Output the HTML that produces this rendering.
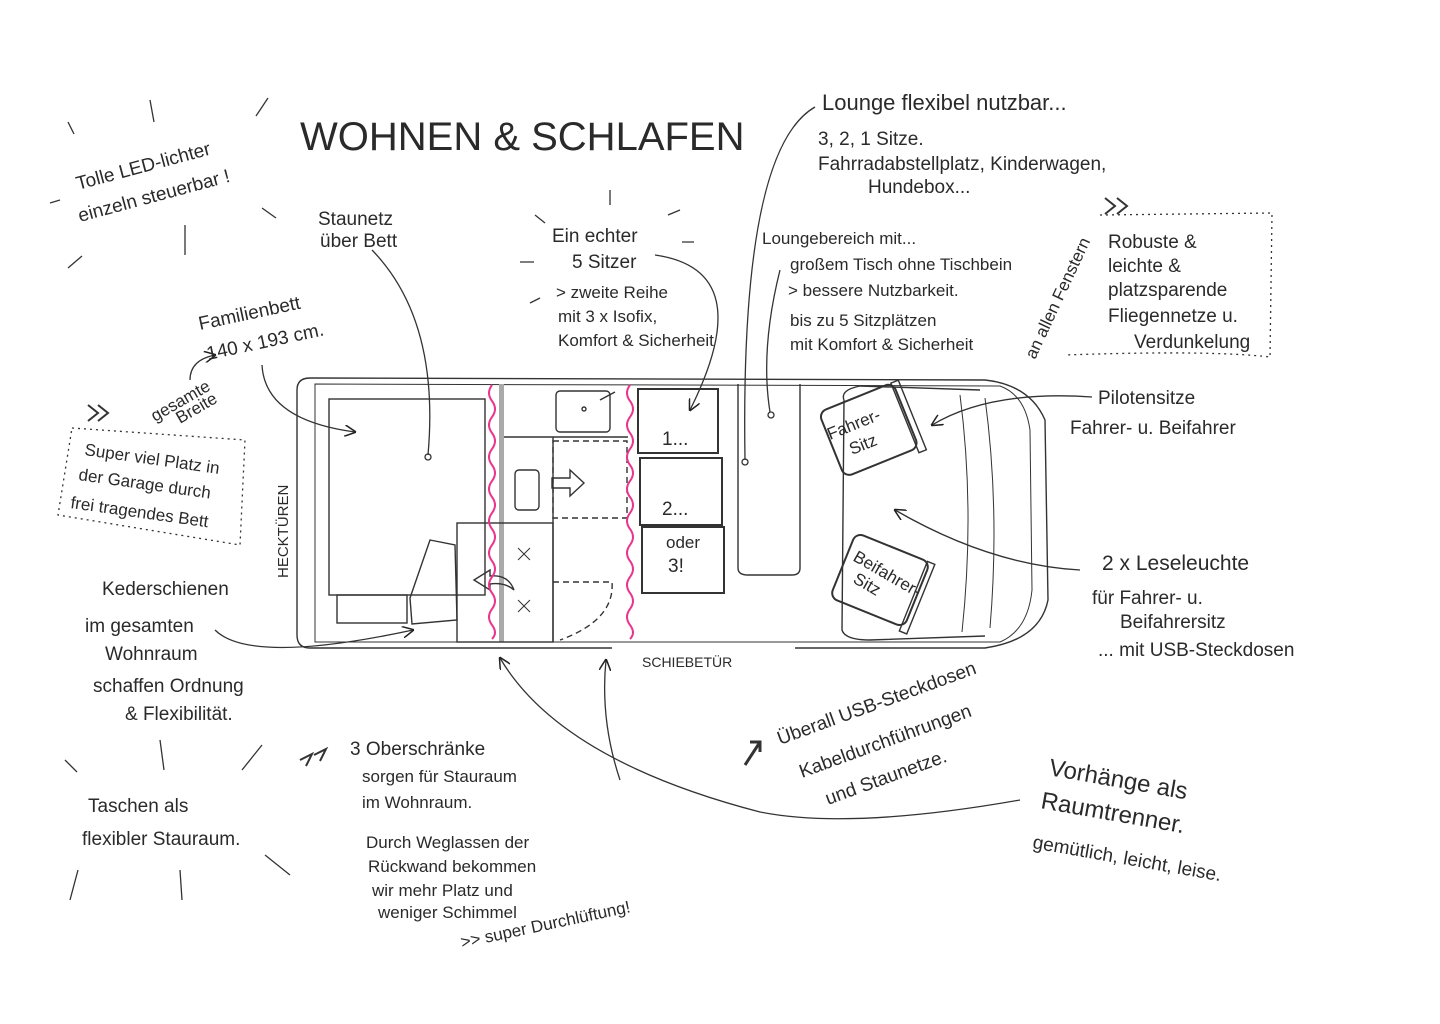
<!DOCTYPE html>
<html><head><meta charset="utf-8"><style>
html,body{margin:0;padding:0;background:#fff;}
svg{display:block}
text{font-family:"Liberation Sans Narrow","Liberation Sans",sans-serif;fill:#2a2a2a;font-size:19px;}
.s{font-size:17px}
</style></head><body>
<svg width="1440" height="1024" viewBox="0 0 1440 1024" xmlns="http://www.w3.org/2000/svg">
<defs><marker id="a" viewBox="0 0 10 10" refX="9" refY="5" markerWidth="9" markerHeight="9" orient="auto"><path d="M0,0 L10,5 L0,10" fill="none" stroke="#222" stroke-width="1.3"/></marker></defs>
<g fill="none" stroke="#333" stroke-width="1.4">
<!-- van -->
<path d="M612,648 L310,648 Q297,648 297,635 L297,390 Q297,378 310,378 L985,380 Q1030,385 1045,420 L1048,600 Q1040,640 985,648 L795,648"/>
<path d="M315,384 L1000,386 Q1025,395 1030,430 L1032,590 Q1028,630 1000,642 L315,642 Z" stroke-width="1"/>
<rect x="329" y="399" width="156" height="196"/>
<rect x="337" y="595" width="70" height="28"/>
<path d="M430,540 L455,545 L457,620 L412,624 L410,598 Z"/>
<rect x="499" y="384" width="5" height="258" fill="#aaa" stroke="none"/>
<rect x="556" y="391" width="54" height="41" rx="4"/>
<circle cx="584" cy="409" r="2"/>
<line x1="600" y1="400" x2="615" y2="392"/>
<line x1="504" y1="437" x2="628" y2="437"/>
<rect x="553" y="441" width="74" height="77" stroke-dasharray="6,4"/>
<rect x="457" y="523" width="96" height="119"/>
<line x1="553" y1="437" x2="553" y2="642"/>
<path d="M553,582 L612,582 Q615,620 560,640" stroke-dasharray="6,4"/>
<rect x="515" y="470" width="24" height="40" rx="4"/>
<path d="M552,478 L570,478 L570,470 L584,483 L570,496 L570,488 L552,488 Z"/>
<path d="M474,580 L490,570 L490,576 Q508,574 514,590 Q505,582 490,584 L490,590 Z"/>
<path d="M518,548 L530,560 M530,548 L518,560 M518,600 L530,612 M530,600 L518,612" stroke-width="1"/>
<rect x="638" y="389" width="80" height="64" stroke-width="2"/>
<rect x="640" y="458" width="82" height="67" stroke-width="2"/>
<rect x="642" y="527" width="82" height="66" stroke-width="2"/>
<path d="M738,384 L738,568 Q738,575 748,575 L792,575 Q800,575 800,568 L800,384"/>
<path d="M844,400 Q840,390 860,386 L980,390 M844,400 L842,630 Q845,640 870,640 L985,636"/>
<path d="M960,395 Q975,510 962,632 M985,398 Q1000,510 990,628" stroke-width="1"/>
<g transform="rotate(-22 868 428)"><rect x="828" y="395" width="80" height="70" rx="8" stroke-width="2"/><rect x="906" y="395" width="8" height="75"/></g>
<g transform="rotate(22 880 580)"><rect x="840" y="545" width="80" height="70" rx="8" stroke-width="2"/><rect x="917" y="545" width="8" height="75"/></g>
</g>
<g fill="none" stroke="#e8358f" stroke-width="2">
<path d="M492,385 q-6,8 0,16 q6,8 0,16 q-6,8 0,16 q6,8 0,16 q-6,8 0,16 q6,8 0,16 q-6,8 0,16 q6,8 0,16 q-6,8 0,16 q6,8 0,16 q-6,8 0,16 q6,8 0,16 q-6,8 0,16 q6,8 0,16 q-6,8 0,16 q6,8 0,14"/>
<path d="M630,385 q-6,8 0,16 q6,8 0,16 q-6,8 0,16 q6,8 0,16 q-6,8 0,16 q6,8 0,16 q-6,8 0,16 q6,8 0,16 q-6,8 0,16 q6,8 0,16 q-6,8 0,16 q6,8 0,16 q-6,8 0,16 q6,8 0,16 q-6,8 0,16 q6,8 0,14"/>
</g>
<!-- connectors -->
<g fill="none" stroke="#333" stroke-width="1.3">
<path d="M372,250 Q440,320 428,455" /><circle cx="428" cy="457" r="3"/>
<path d="M262,365 Q265,420 355,432" marker-end="url(#a)"/>
<path d="M190,380 Q190,360 215,355" marker-end="url(#a)"/>
<path d="M655,255 Q760,270 690,410" marker-end="url(#a)"/>
<path d="M815,107 Q740,150 745,460"/><circle cx="745" cy="462" r="3"/>
<path d="M780,270 Q760,350 770,412"/><circle cx="771" cy="415" r="3"/>
<path d="M1092,397 Q990,390 932,425" marker-end="url(#a)"/>
<path d="M1080,570 Q990,565 895,510" marker-end="url(#a)"/>
<path d="M215,630 Q250,665 413,630" marker-end="url(#a)"/>
<path d="M1020,800 Q850,830 760,812 Q560,760 500,658" marker-end="url(#a)"/>
<path d="M620,780 Q600,720 606,660" marker-end="url(#a)"/>
<path d="M1100,215 L1272,213 L1270,357 Q1210,350 1065,355" stroke-dasharray="2,4"/>
<path d="M72,428 L245,440 L240,545 L58,515 Z" stroke-dasharray="2,4"/>
<path d="M68,122 l6,12 M150,100 l4,22 M268,98 l-12,18 M262,208 l14,10 M185,225 l0,30 M68,268 l14,-12 M60,200 l-10,3 M610,190 l0,15 M535,215 l10,8 M680,210 l-12,5 M682,242 l12,0 M520,262 l14,0 M540,298 l-10,5 M160,740 l4,30 M65,760 l12,12 M262,745 l-20,25 M265,855 l25,20 M78,870 l-8,30 M180,870 l2,30"/>
<path d="M88,405 l10,8 l-10,8 M98,405 l10,8 l-10,8 M1105,198 l10,8 l-10,8 M1117,198 l10,8 l-10,8 M300,760 l12,-6 l-6,12 M314,755 l12,-6 l-6,12" stroke-width="2"/>
<path d="M745,765 L760,742 M750,742 L760,742 L760,752" stroke-width="3"/>
</g>
<!-- labels -->
<text x="300" y="150" style="font-size:40px">WOHNEN &amp; SCHLAFEN</text>
<text transform="translate(78,190) rotate(-15)">Tolle LED-lichter</text>
<text transform="translate(80,222) rotate(-15)">einzeln steuerbar !</text>
<text x="318" y="225">Staunetz</text><text x="320" y="247">über Bett</text>
<text x="552" y="242">Ein echter</text><text x="572" y="268">5 Sitzer</text>
<text x="556" y="298" class="s">&gt; zweite Reihe</text><text x="558" y="322" class="s">mit 3 x Isofix,</text><text x="558" y="346" class="s">Komfort &amp; Sicherheit</text>
<text x="822" y="110" style="font-size:22px">Lounge flexibel nutzbar...</text>
<text x="818" y="145">3, 2, 1 Sitze.</text><text x="818" y="170">Fahrradabstellplatz, Kinderwagen,</text><text x="868" y="193">Hundebox...</text>
<text x="762" y="244" class="s">Loungebereich mit...</text><text x="790" y="270" class="s">großem Tisch ohne Tischbein</text>
<text x="788" y="296" class="s">&gt; bessere Nutzbarkeit.</text><text x="790" y="326" class="s">bis zu 5 Sitzplätzen</text><text x="790" y="350" class="s">mit Komfort &amp; Sicherheit</text>
<text x="1108" y="248">Robuste &amp;</text><text x="1108" y="272">leichte &amp;</text><text x="1108" y="296">platzsparende</text><text x="1108" y="322">Fliegennetze u.</text><text x="1134" y="348">Verdunkelung</text>
<text transform="translate(1035,360) rotate(-65)" class="s">an allen Fenstern</text>
<text transform="translate(200,330) rotate(-12)">Familienbett</text><text transform="translate(208,360) rotate(-12)">140 x 193 cm.</text>
<text transform="translate(155,422) rotate(-30)" class="s">gesamte</text><text transform="translate(180,424) rotate(-30)" class="s">Breite</text>
<text transform="translate(84,455) rotate(8)" class="s">Super viel Platz in</text><text transform="translate(78,480) rotate(8)" class="s">der Garage durch</text><text transform="translate(70,508) rotate(8)" class="s">frei tragendes Bett</text>
<text transform="translate(288,578) rotate(-90)" style="font-size:15px">HECKTÜREN</text>
<text x="642" y="667" style="font-size:14px">SCHIEBETÜR</text>
<text x="662" y="445">1...</text><text x="662" y="515">2...</text><text x="666" y="548" class="s">oder</text><text x="668" y="572">3!</text>
<text transform="translate(830,440) rotate(-22)" class="s">Fahrer-</text><text transform="translate(852,455) rotate(-22)" class="s">Sitz</text>
<text transform="translate(852,560) rotate(30)" class="s">Beifahrer-</text><text transform="translate(852,582) rotate(30)" class="s">Sitz</text>
<text x="1098" y="404">Pilotensitze</text><text x="1070" y="434">Fahrer- u. Beifahrer</text>
<text x="1102" y="570" style="font-size:21px">2 x Leseleuchte</text><text x="1092" y="604">für Fahrer- u.</text><text x="1120" y="628">Beifahrersitz</text><text x="1098" y="656">... mit USB-Steckdosen</text>
<text x="102" y="595">Kederschienen</text><text x="85" y="632">im gesamten</text><text x="105" y="660">Wohnraum</text><text x="93" y="692">schaffen Ordnung</text><text x="125" y="720">&amp; Flexibilität.</text>
<text transform="translate(780,745) rotate(-20)">Überall USB-Steckdosen</text><text transform="translate(802,778) rotate(-20)">Kabeldurchführungen</text><text transform="translate(828,805) rotate(-20)">und Staunetze.</text>
<text transform="translate(1048,775) rotate(10)" style="font-size:24px">Vorhänge als</text><text transform="translate(1040,808) rotate(10)" style="font-size:24px">Raumtrenner.</text><text transform="translate(1032,848) rotate(10)">gemütlich, leicht, leise.</text>
<text x="350" y="755">3 Oberschränke</text><text x="362" y="782" class="s">sorgen für Stauraum</text><text x="362" y="808" class="s">im Wohnraum.</text>
<text x="366" y="848" class="s">Durch Weglassen der</text><text x="368" y="872" class="s">Rückwand bekommen</text><text x="372" y="896" class="s">wir mehr Platz und</text><text x="378" y="918" class="s">weniger Schimmel</text>
<text transform="translate(462,948) rotate(-12)" class="s">&gt;&gt; super Durchlüftung!</text>
<text x="88" y="812">Taschen als</text><text x="82" y="845">flexibler Stauraum.</text>
</svg>
</body></html>
